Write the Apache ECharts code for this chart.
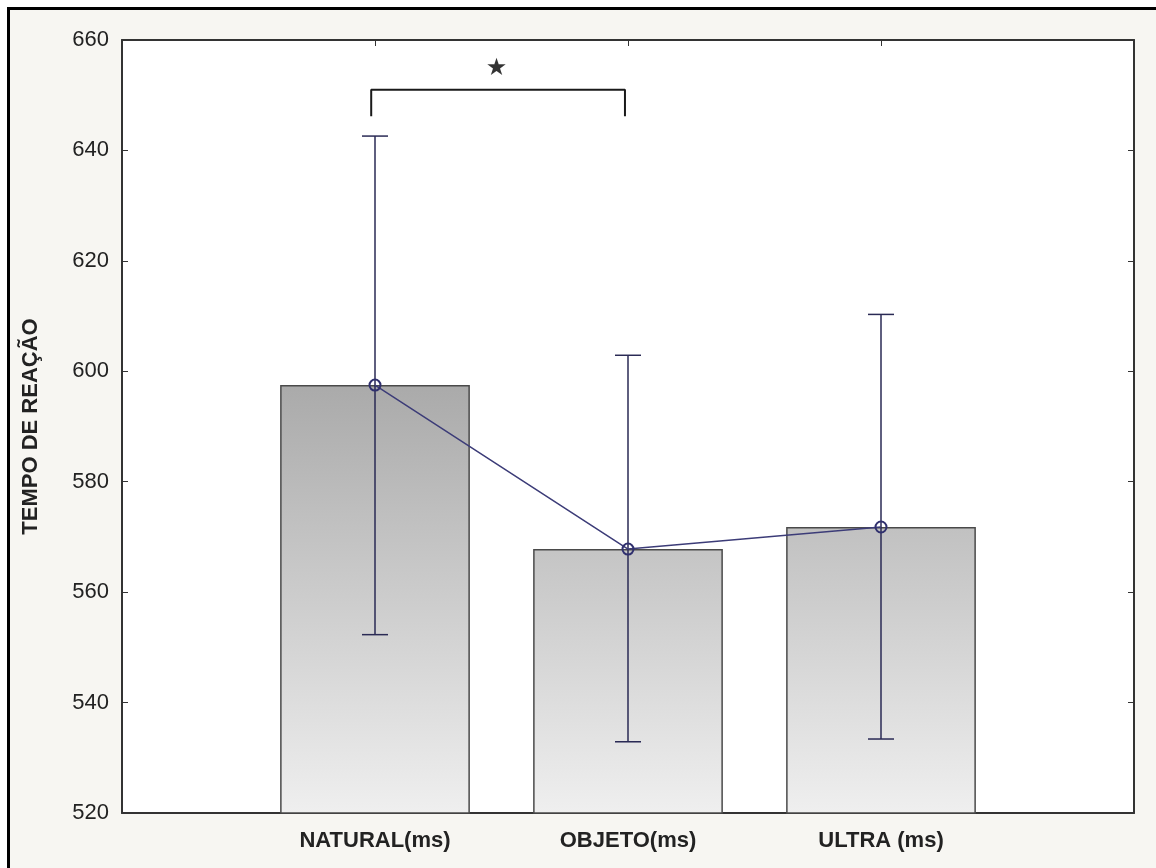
<!DOCTYPE html>
<html>
<head>
<meta charset="utf-8">
<script src="https://cdn.jsdelivr.net/npm/echarts@6/dist/echarts.min.js"></script>
<style>
html, body { margin: 0; padding: 0; background: #ffffff; }
#chart {
  margin-left: 7px; margin-top: 7px;
  border-left: 3px solid #000; border-top: 3px solid #000;
  width: 1146px; height: 858px;
}
</style>
</head>
<body>
<div id="chart"></div>
<script>
// categories padded with empty slots at both ends (axis runs 0..4)
var categories = ['', 'NATURAL(ms)', 'OBJETO(ms)', 'ULTRA (ms)', ''];
var means = [null, 597.5, 567.8, 571.8, null];
var errLow = [552.3, 532.9, 533.4];
var errHigh = [642.6, 602.9, 610.3];
var yMin = 520, yMax = 660, yStep = 20;
// significance bracket + star (x in category units)
var bracket = [[0.985, 646.2], [0.985, 651.0], [1.988, 651.0], [1.988, 646.2]];
var starPos = [[1.48, 654.8]];

var FONT = 'Liberation Sans, Arial, sans-serif';
var chart = echarts.init(document.getElementById('chart'));

var errData = [];
for (var i = 0; i < errLow.length; i++) {
  errData.push([i + 1, errLow[i], errHigh[i]]);
}

var option = {
  backgroundColor: '#f7f6f2',
  animation: false,
  grid: {
    left: 112, top: 30, right: 22, bottom: 55,
    show: true, backgroundColor: '#ffffff', borderWidth: 0
  },
  xAxis: [{
    type: 'category',
    data: categories,
    boundaryGap: false,
    position: 'bottom',
    axisLine: { lineStyle: { color: '#333', width: 2 } },
    axisTick: { inside: true, length: 6, lineStyle: { color: '#333' } },
    axisLabel: { color: '#222', fontSize: 22, fontWeight: 'bold', fontFamily: FONT, margin: 17 },
    splitLine: { show: false }
  }, {
    type: 'value',
    min: 0, max: 4, interval: 1,
    position: 'top',
    axisLine: { show: true, lineStyle: { color: '#333', width: 2 } },
    axisTick: { show: true, inside: true, length: 6, lineStyle: { color: '#333' } },
    axisLabel: { show: false },
    splitLine: { show: false }
  }],
  yAxis: [{
    type: 'value',
    min: yMin, max: yMax, interval: yStep,
    position: 'left',
    name: 'TEMPO DE REAÇÃO',
    nameLocation: 'middle',
    nameGap: 80,
    nameTextStyle: { color: '#222', fontSize: 22, fontWeight: 'bold', fontFamily: FONT },
    axisLine: { show: true, lineStyle: { color: '#333', width: 2 } },
    axisTick: { show: true, inside: true, length: 6, lineStyle: { color: '#333' } },
    axisLabel: { color: '#222', fontSize: 22, fontFamily: FONT, margin: 13 },
    splitLine: { show: false }
  }, {
    type: 'value',
    min: yMin, max: yMax, interval: yStep,
    position: 'right',
    axisLine: { show: true, lineStyle: { color: '#333', width: 2 } },
    axisTick: { show: true, inside: true, length: 6, lineStyle: { color: '#333' } },
    axisLabel: { show: false },
    splitLine: { show: false }
  }],
  series: [{
    type: 'bar',
    data: means,
    barWidth: '75%',
    z: 2,
    itemStyle: {
      color: new echarts.graphic.LinearGradient(0, 375, 0, 803, [
        { offset: 0, color: '#aaaaaa' },
        { offset: 1, color: '#efefef' }
      ], true),
      borderColor: '#4a4a4a',
      borderWidth: 1.5
    }
  }, {
    type: 'custom',
    data: errData,
    z: 3,
    renderItem: function (params, api) {
      var lo = api.coord([api.value(0), api.value(1)]);
      var hi = api.coord([api.value(0), api.value(2)]);
      var w = 13;
      var style = { stroke: '#2a2a55', lineWidth: 1.5 };
      return {
        type: 'group',
        children: [
          { type: 'line', shape: { x1: hi[0], y1: hi[1], x2: lo[0], y2: lo[1] }, style: style },
          { type: 'line', shape: { x1: hi[0] - w, y1: hi[1], x2: hi[0] + w, y2: hi[1] }, style: style },
          { type: 'line', shape: { x1: lo[0] - w, y1: lo[1], x2: lo[0] + w, y2: lo[1] }, style: style }
        ]
      };
    }
  }, {
    type: 'line',
    data: means,
    z: 4,
    symbol: 'circle',
    symbolSize: 11,
    showAllSymbol: true,
    lineStyle: { color: '#3c3c78', width: 1.5 },
    itemStyle: { color: 'rgba(0,0,0,0)', borderColor: '#30306e', borderWidth: 2 }
  }, {
    type: 'line',
    xAxisIndex: 1,
    data: bracket,
    symbol: 'none',
    z: 5,
    lineStyle: { color: '#1a1a1a', width: 2 }
  }, {
    type: 'scatter',
    xAxisIndex: 1,
    data: starPos,
    symbolSize: 1,
    itemStyle: { color: 'rgba(0,0,0,0)' },
    label: {
      show: true, position: 'inside', formatter: '★',
      fontSize: 24, color: '#000', fontFamily: 'DejaVu Sans'
    }
  }]
};

chart.setOption(option);
</script>
</body>
</html>
